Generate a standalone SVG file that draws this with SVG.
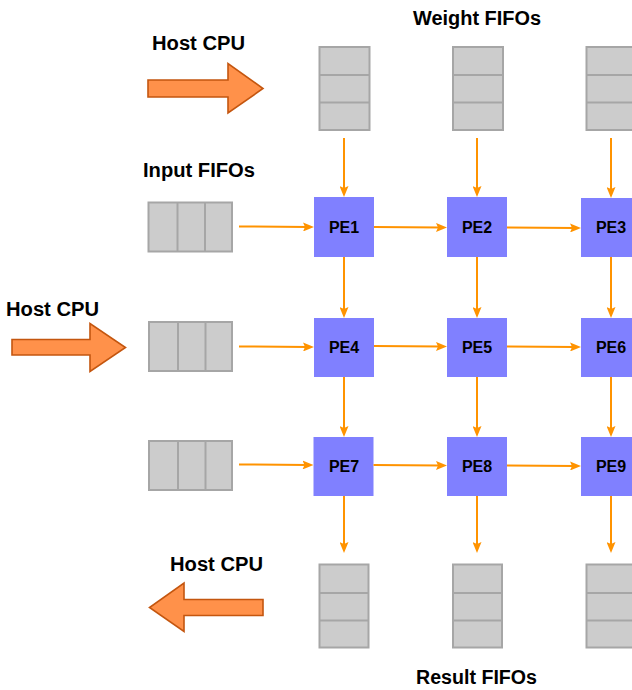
<svg xmlns="http://www.w3.org/2000/svg" width="632" height="690" viewBox="0 0 632 690">
  <style>
    .label { font-family: "Liberation Sans", Arial, Helvetica, sans-serif; font-weight: bold; font-size: 20px; fill: #000; }
    .pe rect { fill: #8080FF; }
    .pe text { font-family: "Liberation Sans", Arial, Helvetica, sans-serif; font-weight: bold; font-size: 16px; fill: #000; text-anchor: middle; }
    .fifo rect { fill: #CCCCCC; stroke: #A6A6A6; stroke-width: 2; }
    .fifo line { stroke: #A6A6A6; stroke-width: 2; }
    .host path { fill: #FF914A; stroke: #C4560F; stroke-width: 1.6; stroke-linejoin: miter; }
    #connectors line { stroke: #FF9300; stroke-width: 2; marker-end: url(#head); }
  </style>
  <defs>
    <marker id="head" viewBox="0 0 11 9" refX="5" refY="4.5" markerWidth="11" markerHeight="9" markerUnits="userSpaceOnUse" orient="auto">
      <path d="M0,0 L11,4.5 L0,9 L2,4.5 z" fill="#FF9300"/>
    </marker>
  </defs>

  <rect width="632" height="690" fill="#FFFFFF"/>

  <!-- Section labels -->
  <g id="labels">
    <text class="label" x="413" y="25" textLength="128" lengthAdjust="spacingAndGlyphs">Weight FIFOs</text>
    <text class="label" x="152" y="50" textLength="93" lengthAdjust="spacingAndGlyphs">Host CPU</text>
    <text class="label" x="143" y="177" textLength="112" lengthAdjust="spacingAndGlyphs">Input FIFOs</text>
    <text class="label" x="6" y="316" textLength="93" lengthAdjust="spacingAndGlyphs">Host CPU</text>
    <text class="label" x="170" y="571" textLength="93" lengthAdjust="spacingAndGlyphs">Host CPU</text>
    <text class="label" x="416" y="684" textLength="121" lengthAdjust="spacingAndGlyphs">Result FIFOs</text>
  </g>

  <!-- Host CPU transfer arrows -->
  <g id="host-in-top" class="host">
    <path d="M148,80 H228 V63.5 L263,88.5 L228,113 V97 H148 Z"/>
  </g>
  <g id="host-in-left" class="host">
    <path d="M12,339.5 H90 V323.5 L125.5,347.5 L90,371.5 V355 H12 Z"/>
  </g>
  <g id="host-out" class="host">
    <path d="M263,599.5 H184 V583 L149.5,607.5 L184,631.5 V615.5 H263 Z"/>
  </g>

  <!-- Weight FIFOs (vertical, three slots) -->
  <g id="wfifo1" class="fifo">
    <rect x="319.5" y="47" width="50" height="83"/>
    <line x1="319.5" y1="75" x2="369.5" y2="75"/>
    <line x1="319.5" y1="102.5" x2="369.5" y2="102.5"/>
  </g>
  <g id="wfifo2" class="fifo">
    <rect x="453" y="47" width="50" height="83"/>
    <line x1="453" y1="75" x2="503" y2="75"/>
    <line x1="453" y1="102.5" x2="503" y2="102.5"/>
  </g>
  <g id="wfifo3" class="fifo">
    <rect x="586.5" y="47" width="50" height="83"/>
    <line x1="586.5" y1="75" x2="636.5" y2="75"/>
    <line x1="586.5" y1="102.5" x2="636.5" y2="102.5"/>
  </g>

  <!-- Input FIFOs (horizontal, three slots) -->
  <g id="ififo1" class="fifo">
    <rect x="148.5" y="202.5" width="83.5" height="49"/>
    <line x1="177.5" y1="202.5" x2="177.5" y2="251.5"/>
    <line x1="205" y1="202.5" x2="205" y2="251.5"/>
  </g>
  <g id="ififo2" class="fifo">
    <rect x="149" y="322" width="83" height="49"/>
    <line x1="178" y1="322" x2="178" y2="371"/>
    <line x1="205.5" y1="322" x2="205.5" y2="371"/>
  </g>
  <g id="ififo3" class="fifo">
    <rect x="149" y="441" width="83" height="49"/>
    <line x1="178" y1="441" x2="178" y2="490"/>
    <line x1="205.5" y1="441" x2="205.5" y2="490"/>
  </g>

  <!-- Result FIFOs (vertical, three slots) -->
  <g id="rfifo1" class="fifo">
    <rect x="319.5" y="564.5" width="49" height="83"/>
    <line x1="319.5" y1="593" x2="368.5" y2="593"/>
    <line x1="319.5" y1="620.5" x2="368.5" y2="620.5"/>
  </g>
  <g id="rfifo2" class="fifo">
    <rect x="453" y="564.5" width="49" height="83"/>
    <line x1="453" y1="593" x2="502" y2="593"/>
    <line x1="453" y1="620.5" x2="502" y2="620.5"/>
  </g>
  <g id="rfifo3" class="fifo">
    <rect x="586.5" y="564.5" width="49" height="83"/>
    <line x1="586.5" y1="593" x2="635.5" y2="593"/>
    <line x1="586.5" y1="620.5" x2="635.5" y2="620.5"/>
  </g>

  <!-- Processing elements -->
  <g id="pe1" class="pe"><rect x="314" y="197" width="60" height="60"/><text x="344" y="233">PE1</text></g>
  <g id="pe2" class="pe"><rect x="447" y="197" width="60" height="60"/><text x="477" y="233">PE2</text></g>
  <g id="pe3" class="pe"><rect x="581" y="198" width="60" height="59"/><text x="611" y="233">PE3</text></g>
  <g id="pe4" class="pe"><rect x="314" y="318" width="60" height="59"/><text x="344" y="353">PE4</text></g>
  <g id="pe5" class="pe"><rect x="447" y="318" width="60" height="59"/><text x="477" y="353">PE5</text></g>
  <g id="pe6" class="pe"><rect x="581" y="318" width="60" height="59"/><text x="611" y="353">PE6</text></g>
  <g id="pe7" class="pe"><rect x="313.5" y="437" width="60" height="59"/><text x="344" y="472">PE7</text></g>
  <g id="pe8" class="pe"><rect x="447" y="437" width="60" height="59"/><text x="477" y="472">PE8</text></g>
  <g id="pe9" class="pe"><rect x="581" y="437" width="60" height="59"/><text x="611" y="472">PE9</text></g>

  <!-- Data-flow connectors (line ends 6px short of the arrow tip) -->
  <g id="connectors">
    <!-- weights into the top row -->
    <line x1="344" y1="138" x2="344" y2="191"/>
    <line x1="477" y1="138" x2="477" y2="191"/>
    <line x1="611" y1="138" x2="611" y2="192"/>
    <!-- row 1 to row 2 -->
    <line x1="344" y1="257" x2="344" y2="312"/>
    <line x1="477" y1="257" x2="477" y2="312"/>
    <line x1="611" y1="257" x2="611" y2="312"/>
    <!-- row 2 to row 3 -->
    <line x1="344" y1="377" x2="344" y2="431"/>
    <line x1="477" y1="377" x2="477" y2="431"/>
    <line x1="611" y1="377" x2="611" y2="431"/>
    <!-- bottom row to result FIFOs -->
    <line x1="344" y1="496" x2="344" y2="547"/>
    <line x1="477" y1="496" x2="477" y2="547"/>
    <line x1="611" y1="496" x2="611" y2="547"/>
    <!-- inputs into the first column -->
    <line x1="239" y1="226.5" x2="308" y2="227"/>
    <line x1="239" y1="346.5" x2="308" y2="347"/>
    <line x1="239" y1="464.5" x2="307.5" y2="465"/>
    <!-- across each row -->
    <line x1="374" y1="227" x2="441" y2="227.5"/>
    <line x1="507" y1="227.5" x2="575" y2="228"/>
    <line x1="374" y1="346" x2="441" y2="346.5"/>
    <line x1="507" y1="346.5" x2="575" y2="347"/>
    <line x1="373.5" y1="465" x2="441" y2="465.5"/>
    <line x1="507" y1="465.5" x2="575" y2="466"/>
  </g>
</svg>
